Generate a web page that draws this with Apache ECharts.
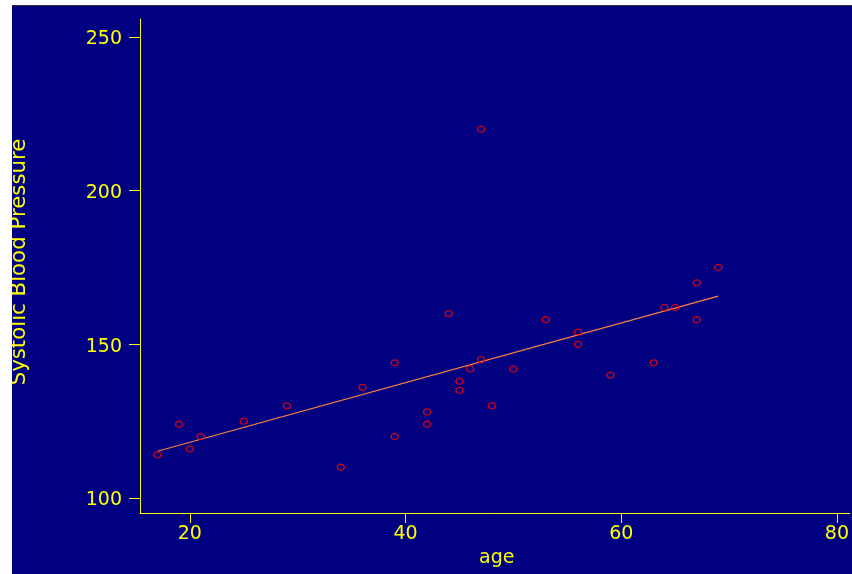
<!DOCTYPE html>
<html><head><meta charset="utf-8">
<script src="https://cdn.jsdelivr.net/npm/echarts@6/dist/echarts.min.js"></script>
<style>html,body{margin:0;padding:0;background:#fff}#c{width:852px;height:574px}</style>
</head><body><div id="c"></div>
<script>
const ages = [39,47,45,47,65,46,67,42,67,56,64,56,59,34,42,48,45,17,20,19,36,50,39,21,44,53,63,29,25,69];
const sbp  = [144,220,138,145,162,142,170,124,158,154,162,150,140,110,128,130,135,114,116,124,136,142,120,120,160,158,144,130,125,175];
const fitAges = [17, 69];
const fitSbp  = [115.2, 165.7];
const xTicks = [20, 40, 60, 80];
const yTicks = [100, 150, 200, 250];

const yellow = '#FFFF00';
const font = 'DejaVu Sans';
const chart = echarts.init(document.getElementById('c'), null, {renderer: 'canvas'});
chart.setOption({
  backgroundColor: '#000080',
  animation: false,
  graphic: [
    {type: 'rect', shape: {x: 0, y: 0, width: 12, height: 574}, style: {fill: '#ffffff'}, silent: true, z: 100},
    {type: 'rect', shape: {x: 0, y: 0, width: 852, height: 5}, style: {fill: '#ffffff'}, silent: true, z: 100},
    {type: 'line', shape: {x1: 12, y1: 5.5, x2: 852, y2: 5.5}, style: {stroke: '#333333', lineWidth: 1}, silent: true, z: 100}
  ],
  grid: {left: 140, right: 0, top: 19, bottom: 61, containLabel: false},
  xAxis: {
    type: 'value', min: 15.38, max: 81.18,
    name: 'age', nameLocation: 'middle', nameGap: 30,
    nameTextStyle: {color: yellow, fontFamily: font, fontSize: 19, padding: [0, 0, 0, 4]},
    axisLine: {show: true, onZero: false, lineStyle: {color: yellow, width: 1}},
    axisTick: {show: true, length: 10, lineStyle: {color: yellow, width: 1}, customValues: xTicks},
    axisLabel: {color: yellow, fontFamily: font, fontSize: 19, margin: 12, customValues: xTicks},
    splitLine: {show: false}
  },
  yAxis: {
    type: 'value', min: 95.12, max: 255.86,
    name: 'Systolic Blood Pressure', nameLocation: 'middle', nameGap: 110,
    nameTextStyle: {color: yellow, fontFamily: font, fontSize: 21.3, padding: [0, 0, 0, 8]},
    axisLine: {show: true, onZero: false, lineStyle: {color: yellow, width: 1}},
    axisTick: {show: true, length: 11, lineStyle: {color: yellow, width: 1}, customValues: yTicks},
    axisLabel: {color: yellow, fontFamily: font, fontSize: 19, margin: 18, verticalAlign: 'top', lineHeight: 5, customValues: yTicks},
    splitLine: {show: false}
  },
  series: [
    {
      type: 'scatter',
      data: ages.map((a, i) => [a, sbp[i]]),
      symbol: 'circle', symbolSize: [7, 6],
      itemStyle: {color: 'transparent', borderColor: '#FF0000', borderWidth: 1.4},
      z: 3
    },
    {
      type: 'line',
      data: fitAges.map((a, i) => [a, fitSbp[i]]),
      showSymbol: false, symbol: 'none',
      lineStyle: {color: '#FF8040', width: 1.2},
      z: 2
    }
  ]
});
</script></body></html>
